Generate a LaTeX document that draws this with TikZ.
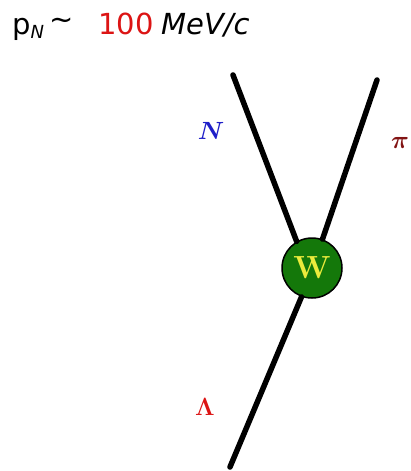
\documentclass[tikz,border=0pt]{standalone}
\usepackage{fontspec}
\setsansfont{DejaVu Sans}
\definecolor{vtxgreen}{RGB}{20,120,10}
\definecolor{vtxyellow}{RGB}{235,235,60}
\definecolor{pired}{RGB}{130,20,20}
\definecolor{lamred}{RGB}{220,20,20}
\definecolor{nblue}{RGB}{30,30,200}
\tikzset{
  leg/.style={line width=5.5pt,line cap=round},
  vertex/.style={circle,draw=black,line width=1.5pt,fill=vtxgreen,minimum size=60pt,inner sep=0pt,
    text=vtxyellow,font=\fontsize{32}{32}\selectfont\bfseries},
  lbl/.style={font=\fontsize{30}{30}\selectfont\boldmath},
  head/.style={anchor=base west,inner sep=0pt,font=\sffamily\fontsize{29}{29}\selectfont}
}
\begin{document}
\begin{tikzpicture}[x=1pt,y=-1pt]
    \useasboundingbox (0,0) rectangle (411,471);
    % momentum of the nucleon
    \node[head] (mom) at (12,34)
      {p$_{\textsf{\fontsize{18}{18}\selectfont\itshape N}}$\,\raisebox{0.3ex}{\textasciitilde}};
    \node[head,text=lamred] (val) at (98,34) {100};
    \node[head] (unit) at (161,34) {\textit{MeV/c}};
    % vertex and legs
    \node[vertex] (w) at (312,268) {W};
    \coordinate (ntop) at (233,75);
    \coordinate (pitop) at (377,80);
    \coordinate (lbot) at (230,467);
    \draw[leg] (ntop) -- (w.120);
    \draw[leg] (pitop) -- (w.70);
    \draw[leg] (lbot) -- (w.250);
    \node[lbl,text=nblue] (nlab) at (211,131) {$N$};
    \node[lbl,text=pired] (pilab) at (400,143) {$\pi$};
    \node[lbl,text=lamred] (llab) at (205,407) {$\Lambda$};
\end{tikzpicture}
\end{document}
